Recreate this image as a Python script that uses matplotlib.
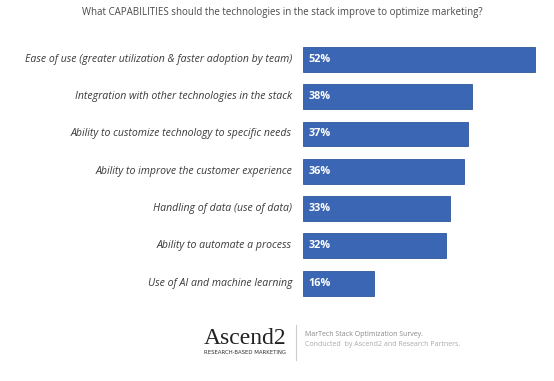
import matplotlib
matplotlib.use("Agg")
import matplotlib.pyplot as plt

title = "What CAPABILITIES should the technologies in the stack improve to optimize marketing?"
categories = [
    "Ease of use (greater utilization & faster adoption by team)",
    "Integration with other technologies in the stack",
    "Ability to customize technology to specific needs",
    "Ability to improve the customer experience",
    "Handling of data (use of data)",
    "Ability to automate a process",
    "Use of AI and machine learning",
]
values = [52, 38, 37, 36, 33, 32, 16]
logo_text = "Ascend2"
logo_sub = "RESEARCH-BASED MARKETING"
source_lines = ["MarTech Stack Optimization Survey.", "Conducted  by Ascend2 and Research Partners."]

W, H = 554, 381
fig = plt.figure(figsize=(W / 100, H / 100), dpi=100)
fig.patch.set_facecolor("white")

left = 303 / W
right = 1.0
bottom = 1 - 301.65 / H
top = 1 - 40.85 / H
ax = fig.add_axes([left, bottom, right - left, top - bottom])
ax.set_facecolor("none")

bar_color = "#3b66b4"
ypos = list(range(len(categories)))
ax.barh(ypos, values, height=0.67, color=bar_color, edgecolor="#2f569e", linewidth=0.6)
ax.set_xlim(0, 251 / 4.46)
ax.set_ylim(len(categories) - 0.5, -0.5)
ax.axis("off")

for y, v, c in zip(ypos, values, categories):
    ax.text(1.3, y, f"{v}%", color="white", fontsize=7.8, fontweight="bold",
            va="center", ha="left", family="Open Sans")
    ax.annotate(c, xy=(0, y), xycoords="data", xytext=(-11, 0), textcoords="offset pixels",
                ha="right", va="center", fontsize=7.6, style="italic", color="#3a3a3a",
                family="Open Sans")

fig.text(282 / W, 1 - 12 / H, title, ha="center", va="center", fontsize=7.0,
         color="#4a4a4a", family="Open Sans")

# footer
fig.text(245 / W, 1 - 338 / H, logo_text, ha="center", va="center", fontsize=17,
         color="#222222", family="Liberation Serif")
fig.text(245 / W, 1 - 353 / H, logo_sub, ha="center", va="center", fontsize=3.9,
         color="#333333", family="DejaVu Sans")
fig.add_artist(plt.Line2D([296 / W, 296 / W], [1 - 325 / H, 1 - 360 / H],
                          color="#cccccc", linewidth=0.8, transform=fig.transFigure))
fig.text(305 / W, 1 - 334 / H, source_lines[0], ha="left", va="center", fontsize=5.0,
         color="#888888", family="Open Sans")
fig.text(305 / W, 1 - 345 / H, source_lines[1], ha="left", va="center", fontsize=5.0,
         color="#aaaaaa", family="Open Sans")

fig.savefig("out.png", dpi=100, facecolor="white")
